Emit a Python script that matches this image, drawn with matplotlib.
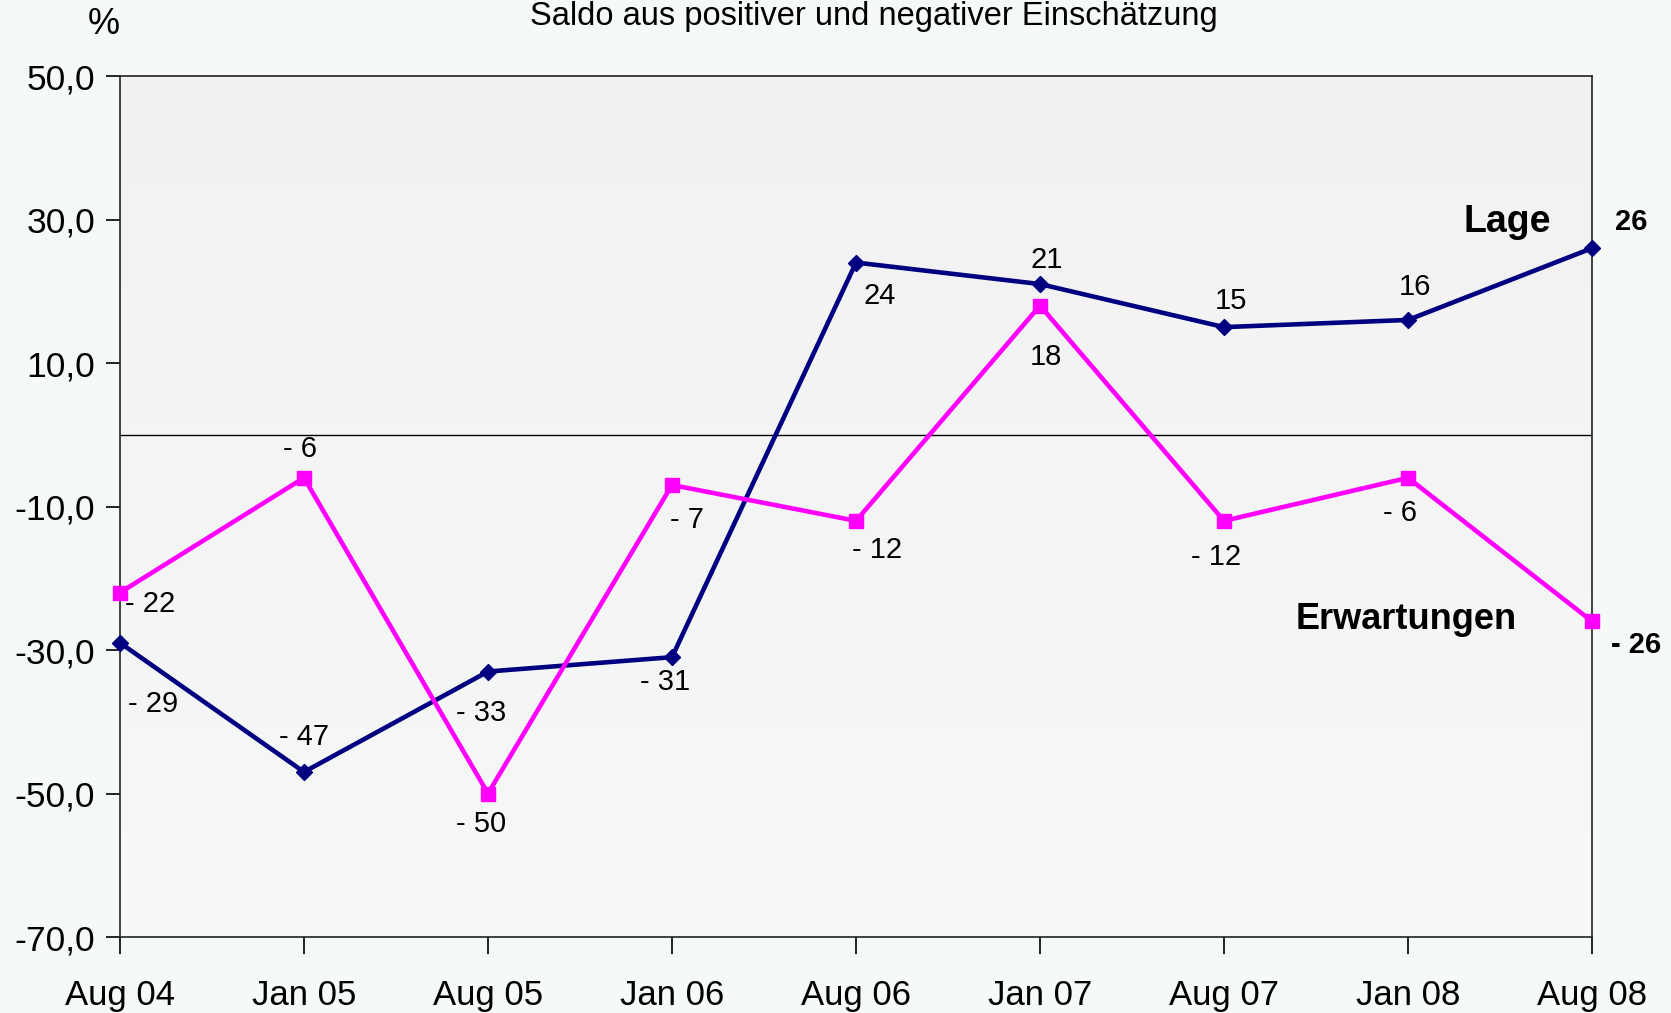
import matplotlib
matplotlib.use("Agg")
import matplotlib.pyplot as plt
import numpy as np
from matplotlib.colors import LinearSegmentedColormap

categories = ["Aug 04", "Jan 05", "Aug 05", "Jan 06", "Aug 06", "Jan 07", "Aug 07", "Jan 08", "Aug 08"]
lage = [-29, -47, -33, -31, 24, 21, 15, 16, 26]
erwartungen = [-22, -6, -50, -7, -12, 18, -12, -6, -26]
yticks = [50, 30, 10, -10, -30, -50, -70]

# label offsets in points (layout only)
lage_off = [(24, -44), (0, 25), (-5, -30), (-5, -18), (17, -24), (5, 17), (5, 19), (5, 24), (28, 19)]
erw_off = [(22, -8), (-3, 21), (-5, -22), (11, -25), (15, -21), (4, -37), (-6, -26), (-6, -25), (32, -17)]

plt.rcParams['font.family'] = ['Liberation Sans', 'DejaVu Sans']

fig = plt.figure(figsize=(16.71, 10.13), dpi=100)
fig.patch.set_facecolor('#F5FAF7')
ax = fig.add_axes([120/1671, 1-937/1013, (1592-120)/1671, (937-76)/1013])

x = np.arange(len(categories))
ax.set_xlim(0, len(categories) - 1)

# subtle background gradient
grad = np.linspace(0, 1, 256).reshape(-1, 1)
cmap = LinearSegmentedColormap.from_list('bg', ['#F1F1F1', '#F6F9F7'])
ax.imshow(grad, aspect='auto', cmap=cmap, extent=[0, len(categories)-1, -70, 50],
          origin='upper', zorder=0)
ax.set_ylim(-70, 50)

ax.axhline(0, color='black', lw=1.0, zorder=1)

ax.plot(x, lage, color='#000080', lw=3.3, marker='D', ms=8, zorder=3, clip_on=False)
ax.plot(x, erwartungen, color='#FF00FF', lw=3.3, marker='s', ms=10, zorder=3, clip_on=False)

def fmt(v):
    return f"- {abs(v)}" if v < 0 else f"{v}"

n = len(categories)
for series, offs in ((lage, lage_off), (erwartungen, erw_off)):
    for i, v in enumerate(series):
        bold = (i == n - 1)
        ax.annotate(fmt(v), (x[i], v), xytext=offs[i], textcoords='offset points',
                    ha='center', va='center', fontsize=21,
                    fontweight='bold' if bold else 'normal', color='black',
                    annotation_clip=False)

ax.text(7.54, 29.7, "Lage", fontsize=27, fontweight='bold', ha='center', va='center')
ax.text(6.99, -25.8, "Erwartungen", fontsize=26, fontweight='bold', ha='center', va='center')

ax.set_xticks(x)
ax.set_xticklabels(categories, fontsize=25)
ax.set_yticks(yticks)
ax.set_yticklabels([f"{t:.1f}".replace('.', ',') for t in yticks], fontsize=25.5)
ax.tick_params(axis='x', direction='out', length=12, width=1.2, pad=18)
ax.tick_params(axis='y', direction='out', length=10, width=1.2, pad=8)
for s in ax.spines.values():
    s.set_linewidth(1.2)
    s.set_color('#222222')

fig.text(874/1671, 1-16/1013, "Saldo aus positiver und negativer Einschätzung", fontsize=23.5,
         ha='center', va='center')
fig.text(104/1671, 1-24/1013, "%", fontsize=26, ha='center', va='center')

fig.savefig("out.png", dpi=100, facecolor=fig.get_facecolor())
